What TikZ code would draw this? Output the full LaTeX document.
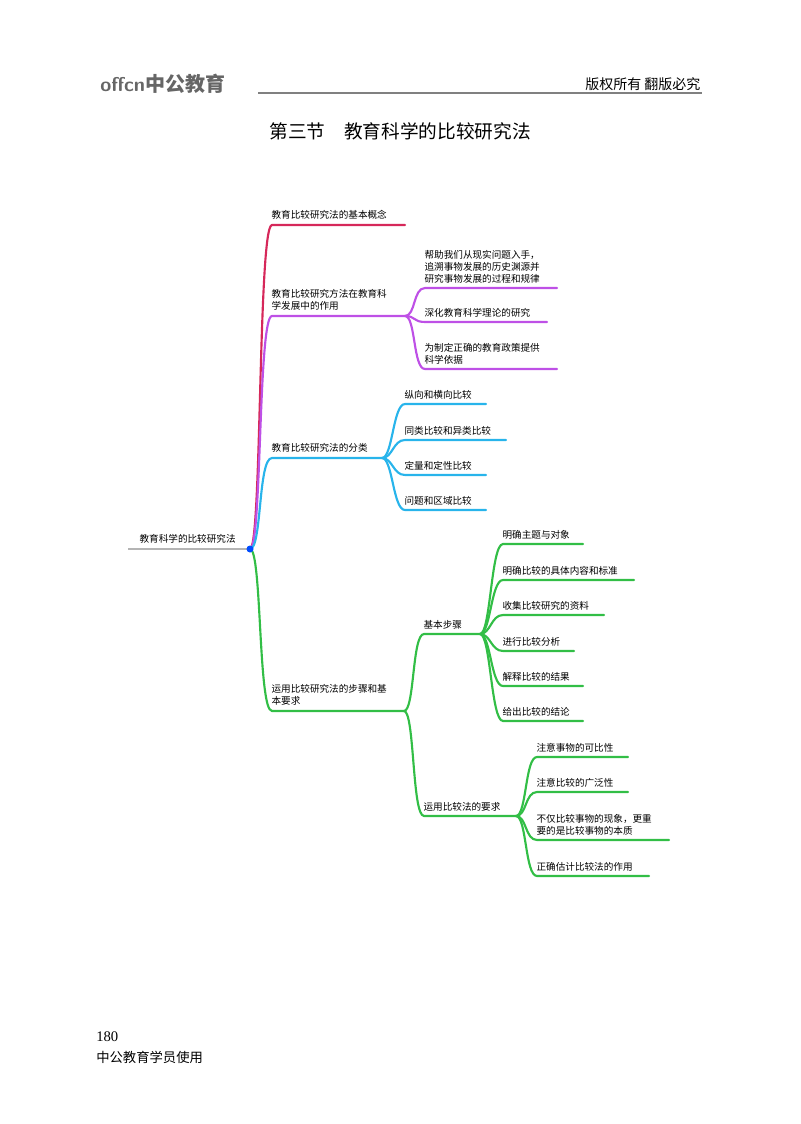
\documentclass[tikz,border=0pt]{standalone}
\usepackage{fontspec}
\setmainfont{Liberation Serif}
\newfontfamily\cjk{Noto Sans CJK SC}
\definecolor{cred}{RGB}{214,40,90}
\definecolor{cpur}{RGB}{190,80,230}
\definecolor{cblu}{RGB}{40,180,235}
\definecolor{cgrn}{RGB}{50,190,70}
\definecolor{cgry}{RGB}{180,180,180}
\tikzset{
 lab/.style={anchor=south west,inner sep=1pt,font=\cjk\fontsize{7.2}{9}\selectfont,align=left},
 br/.style={line width=1.6pt,line cap=round},
}
\newcommand{\kid}[6]{% color, from-coordinate name, y, start x, end x, text
 \coordinate (#2-#3) at (#5,#3);
 \draw[br,#1] (#2) .. controls ([xshift=8]#2) and (#4-12,#3) .. (#4,#3) -- (#2-#3);
 \node[lab] (t#2-#3) at (#4-2,#3-3) {#6};}
\begin{document}
\begin{tikzpicture}[x=0.75pt,y=-0.75pt]
\useasboundingbox (0,0) rectangle (800,1124);
% header
\node[anchor=west,text=gray!80!black,font=\sffamily\bfseries\fontsize{15}{15}\selectfont,inner sep=0] (logo) at (100,84) {offcn\cjk 中公教育};
\coordinate (hl) at (258,93); \coordinate (hr) at (702,93);
\draw[gray,line width=0.8pt] (hl) -- (hr);
\node[anchor=south east,inner sep=1pt,font=\cjk\fontsize{10.5}{12}\selectfont] (rights) at (702,92) {版权所有\ 翻版必究};
\node[font=\cjk\fontsize{14}{16}\selectfont] (title) at (400,131) {第三节\quad 教育科学的比较研究法};
% root
\coordinate (root) at (250,549); \coordinate (rootL) at (128,549);
\draw[cgry,line width=1.8pt] (rootL) -- (root);
\node[lab] (troot) at (138,545) {教育科学的比较研究法};
% main branches
\foreach \y/\c/\e in {225/cred/405,316/cpur/405,458/cblu/382,711/cgrn/404}{
 \draw[br,\c] (root) .. controls (262,549) and (258,\y) .. (272,\y) -- (\e,\y);}
\coordinate (b1) at (405,225);\coordinate (b2) at (405,316);\coordinate (b3) at (382,458);\coordinate (b4) at (404,711);
\fill[blue!70!cyan] (root) circle (3.5);
\node[lab] (t1) at (270,221) {教育比较研究法的基本概念};
\node[lab] (t2) at (270,312) {教育比较研究方法在教育科\\学发展中的作用};
\node[lab] (t3) at (270,454) {教育比较研究法的分类};
\node[lab] (t4) at (270,707) {运用比较研究法的步骤和基\\本要求};
% purple children
\kid{cpur}{b2}{288}{425}{557}{帮助我们从现实问题入手，\\追溯事物发展的历史渊源并\\研究事物发展的过程和规律}
\kid{cpur}{b2}{322}{425}{547}{深化教育科学理论的研究}
\kid{cpur}{b2}{369}{425}{557}{为制定正确的教育政策提供\\科学依据}
% blue children
\kid{cblu}{b3}{404}{405}{486}{纵向和横向比较}
\kid{cblu}{b3}{440}{405}{506}{同类比较和异类比较}
\kid{cblu}{b3}{475}{405}{486}{定量和定性比较}
\kid{cblu}{b3}{510}{405}{486}{问题和区域比较}
% green
\kid{cgrn}{b4}{634}{424}{480}{基本步骤}
\kid{cgrn}{b4}{816}{424}{516}{运用比较法的要求}
\coordinate (g1) at (480,634); \coordinate (g2) at (516,816);
\kid{cgrn}{g1}{544}{503}{583}{明确主题与对象}
\kid{cgrn}{g1}{580}{503}{634}{明确比较的具体内容和标准}
\kid{cgrn}{g1}{615}{503}{604}{收集比较研究的资料}
\kid{cgrn}{g1}{651}{503}{574}{进行比较分析}
\kid{cgrn}{g1}{686}{503}{583}{解释比较的结果}
\kid{cgrn}{g1}{721}{503}{583}{给出比较的结论}
\kid{cgrn}{g2}{757}{537}{628}{注意事物的可比性}
\kid{cgrn}{g2}{792}{537}{628}{注意比较的广泛性}
\kid{cgrn}{g2}{840}{537}{669}{不仅比较事物的现象，更重\\要的是比较事物的本质}
\kid{cgrn}{g2}{876}{537}{649}{正确估计比较法的作用}
% footer
\node[anchor=west,inner sep=0,font=\fontsize{11}{12}\selectfont] (pg) at (96,1037) {180};
\node[anchor=west,inner sep=0,font=\cjk\fontsize{10}{12}\selectfont] (ft) at (96,1057) {中公教育学员使用};
\end{tikzpicture}
\end{document}
